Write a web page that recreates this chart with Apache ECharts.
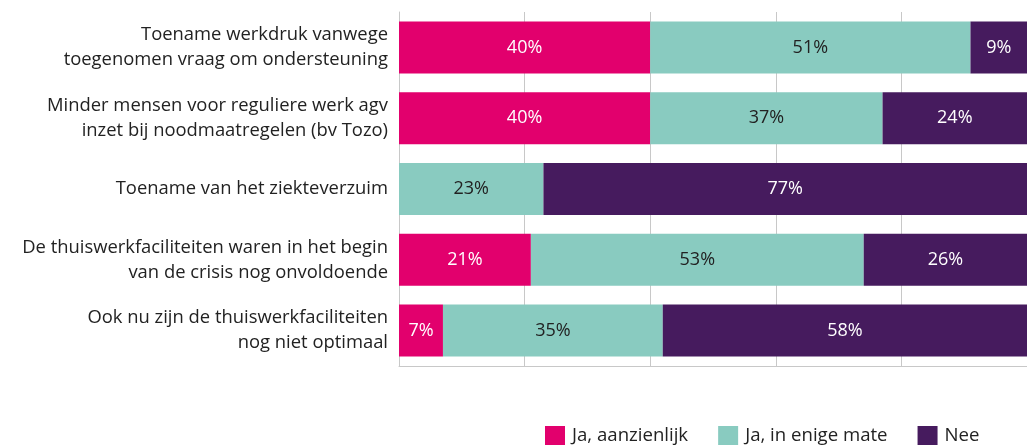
<!DOCTYPE html>
<html>
<head>
<meta charset="utf-8">
<script src="https://cdn.jsdelivr.net/npm/echarts@6/dist/echarts.min.js"></script>
<style>
html,body{margin:0;padding:0;background:#fff}
#main{width:1027px;height:445px}
</style>
</head>
<body>
<div id="main"></div>
<script>
var categories = [
    'Toename werkdruk vanwege\ntoegenomen vraag om ondersteuning',
    'Minder mensen voor reguliere werk agv\ninzet bij noodmaatregelen (bv Tozo)',
    'Toename van het ziekteverzuim',
    'De thuiswerkfaciliteiten waren in het begin\nvan de crisis nog onvoldoende',
    'Ook nu zijn de thuiswerkfaciliteiten\nnog niet optimaal'
];
var seriesNames = ['Ja, aanzienlijk', 'Ja, in enige mate', 'Nee'];
var aanzienlijk = [40, 40, 0, 21, 7];
var enigeMate = [51, 37, 23, 53, 35];
var nee = [9, 24, 77, 26, 58];

var colors = ['#E2006D', '#89CBC0', '#461B5E'];
var labelColors = ['#ffffff', '#222222', '#ffffff'];
var font = '"Open Sans", "Noto Sans", sans-serif';

var chart = echarts.init(document.getElementById('main'));

function makeSeries(idx, values) {
    return {
        name: seriesNames[idx],
        type: 'bar',
        stack: 'total',
        barWidth: 52,
        itemStyle: { color: colors[idx] },
        label: {
            show: true,
            position: 'inside',
            color: labelColors[idx],
            fontFamily: font,
            fontSize: 18,
            formatter: function (p) { return p.value > 0 ? p.value + '%' : ''; }
        },
        emphasis: { disabled: true },
        data: values
    };
}

var option = {
    animation: false,
    textStyle: { fontFamily: font },
    grid: { left: 399, top: 12, width: 630, height: 354, containLabel: false },
    legend: {
        left: 545,
        top: 426,
        padding: 0,
        itemWidth: 20,
        itemHeight: 20,
        itemGap: 30,
        icon: 'rect',
        textStyle: { fontFamily: font, fontSize: 18.6, color: '#222', lineHeight: 20, padding: [0, 0, 0, 2] },
        data: seriesNames
    },
    xAxis: {
        type: 'value',
        min: 0,
        max: 100,
        interval: 20,
        axisLabel: { show: false },
        axisTick: { show: false },
        axisLine: { show: true, lineStyle: { color: '#c8c8c8', width: 1 } },
        splitLine: { show: true, lineStyle: { color: '#c8c8c8', width: 1 } }
    },
    yAxis: {
        type: 'category',
        inverse: true,
        data: categories,
        axisTick: { show: false },
        axisLine: { show: true, lineStyle: { color: '#c8c8c8', width: 1 } },
        axisLabel: {
            margin: 11,
            color: '#222',
            fontFamily: font,
            fontSize: 18.4,
            lineHeight: 25,
            align: 'right'
        }
    },
    series: [
        makeSeries(0, aanzienlijk),
        makeSeries(1, enigeMate),
        makeSeries(2, nee)
    ]
};

chart.setOption(option);
</script>
</body>
</html>
